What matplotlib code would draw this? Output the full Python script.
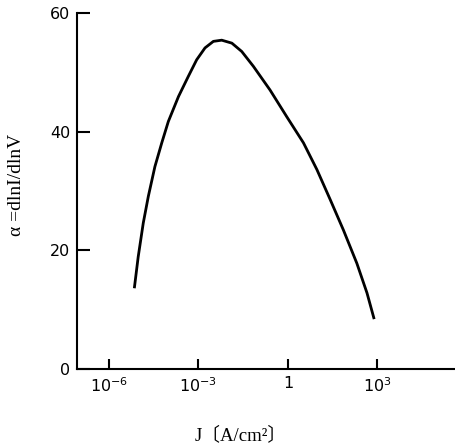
import numpy as np
import matplotlib
matplotlib.use("Agg")
from matplotlib import pyplot as plt

# curve: log10(J) and alpha
log_j = [-5.15, -5.02, -4.85, -4.68, -4.46, -4.23, -4.01, -3.67, -3.34, -3.06,
         -2.78, -2.50, -2.22, -1.88, -1.55, -1.16, -0.60, -0.04, 0.52, 0.97,
         1.42, 1.86, 2.31, 2.65, 2.89]
alpha = [13.6, 18.9, 24.6, 29.1, 34.1, 38.1, 41.7, 45.9, 49.3, 52.1,
         54.1, 55.2, 55.4, 54.9, 53.5, 51.0, 47.0, 42.5, 38.1, 33.6,
         28.5, 23.4, 17.8, 12.8, 8.4]

xtick_vals = [1e-6, 1e-3, 1, 1e3]
xtick_labels = ["$10^{-6}$", "$10^{-3}$", "1", "$10^{3}$"]
ytick_vals = [0, 20, 40, 60]

fig = plt.figure(figsize=(4.55, 4.44), dpi=100)
ax = fig.add_axes([0.170, 0.169, 0.830, 0.802])

ax.plot(10 ** np.array(log_j), alpha, color="black", lw=2.0,
        solid_capstyle="butt", solid_joinstyle="round")

ax.set_xscale("log")
ax.set_xlim(10 ** -7.06, 10 ** 5.6)
ax.set_ylim(0, 60)
ax.set_xticks(xtick_vals)
ax.set_xticklabels(xtick_labels)
ax.set_yticks(ytick_vals)
ax.minorticks_off()

for s in ["top", "right"]:
    ax.spines[s].set_visible(False)
for s in ["left", "bottom"]:
    ax.spines[s].set_linewidth(1.5)

ax.tick_params(axis="y", direction="in", width=1.5, length=9, pad=5, labelsize=11.5)
ax.tick_params(axis="x", direction="in", width=1.5, length=7, pad=5, labelsize=11.5)

fig.text(0.037, 0.583, "α =dlnI/dlnV", rotation=90, ha="center", va="center",
         family=["Liberation Serif", "DejaVu Serif"], fontsize=14)
fig.text(0.528, 0.02, "J〔A/cm²〕", ha="center", va="center",
         family=["Liberation Serif", "Noto Sans CJK SC", "DejaVu Sans"], fontsize=13.5)

fig.savefig("out.png", dpi=100)
